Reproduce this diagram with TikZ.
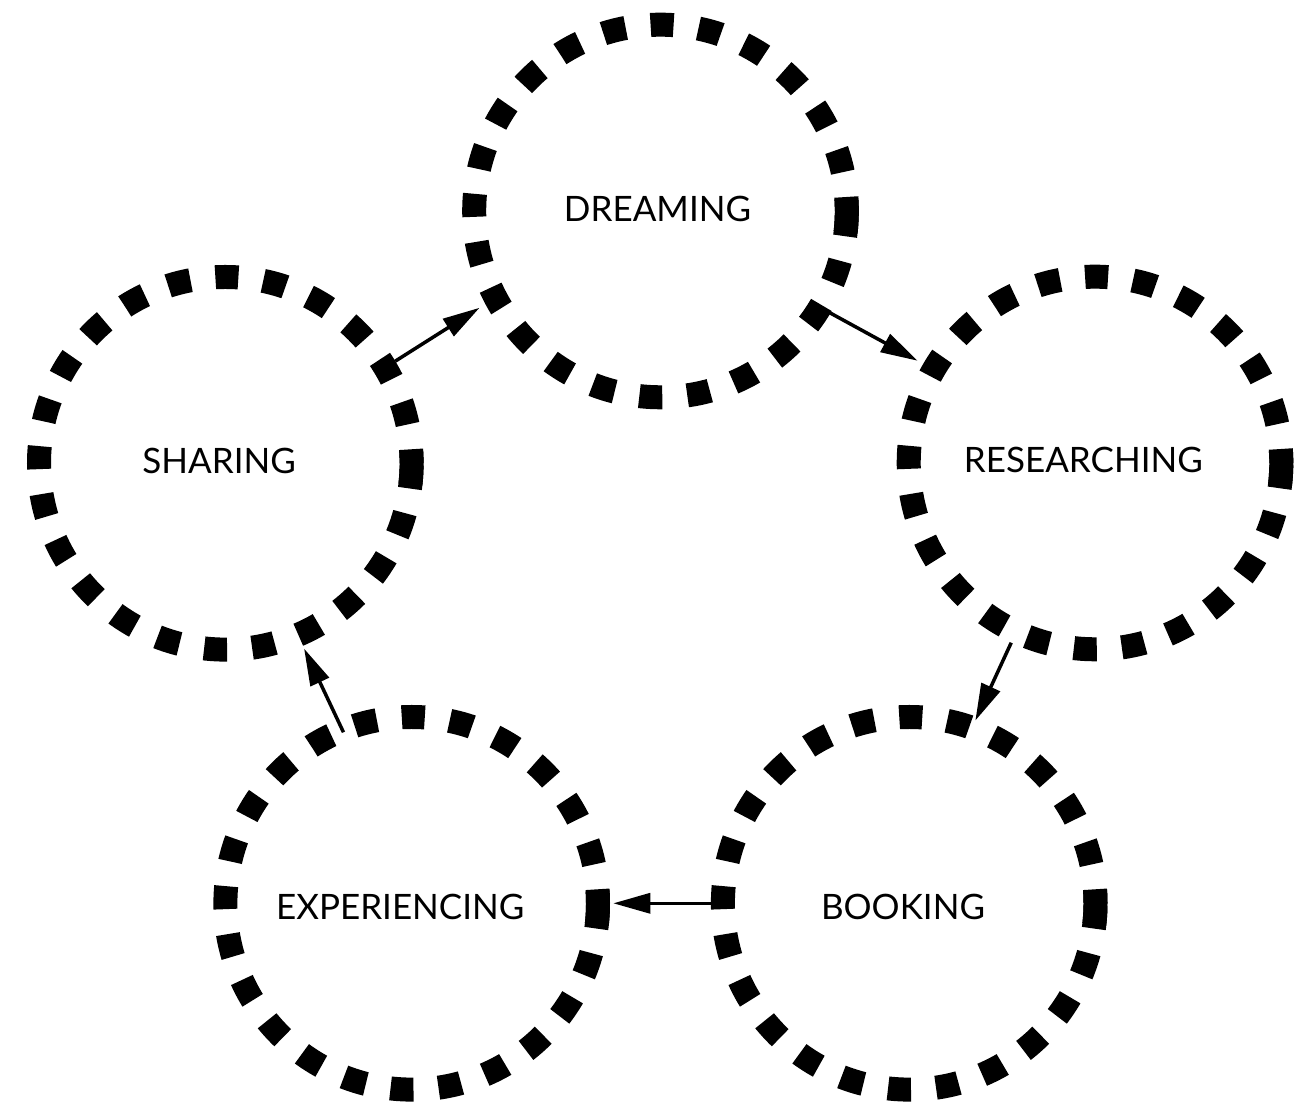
\documentclass[tikz,border=0pt]{standalone}
\usepackage{fontspec}
\setmainfont{Lato}
\usetikzlibrary{arrows.meta}
\begin{document}
\begin{tikzpicture}[x=1pt,y=1pt,
  ring/.style={circle, draw=black, line width=24pt, minimum size=372.6pt, inner sep=0pt, outer sep=12pt,
    dash pattern=on 23pt off 25.1pt, dash phase=9pt},
  seam/.style={line width=24pt, draw=black},
  lbl/.style={anchor=base, font=\fontsize{35}{40}\selectfont, inner sep=0pt},
  arr/.style={line width=3.5pt, -{Triangle[length=37pt,width=20pt]}}
]
\useasboundingbox[fill=white] (0,0) rectangle (1303,1102);
\node[ring] (s) at (225.3,638.7) {};
\node[ring] (d) at (660.5,891) {};
\node[ring] (r) at (1095,639) {};
\node[ring] (e) at (411.7,198.7) {};
\node[ring] (b) at (909.2,198.7) {};
\foreach \n in {s,d,r,e,b}
  \draw[seam] (\n.center) ++(-6.5:186.3) arc[start angle=-6.5, end angle=3.8, radius=186.3];
\node[lbl] (ls) at (219.2,628) {SHARING};
\node[lbl] (ld) at (657.5,880.3) {DREAMING};
\node[lbl] (lr) at (1083.3,629) {RESEARCHING};
\node[lbl] (le) at (400.2,182) {EXPERIENCING};
\node[lbl] (lb) at (903,182) {BOOKING};
\draw[arr, shorten >=7pt] (s.31.8) -- (d.208);
\draw[arr, shorten >=6.5pt, shorten <=-2.4pt] (d.329.9) -- (r.150.5);
\draw[arr, shorten >=-4pt] (r.245.4) -- (b.70.5);
\draw[arr, shorten >=3.3pt] (b.180.7) -- (e.-0.7);
\draw[arr, shorten <=-14.2pt, shorten >=3.1pt] (e.112.6) -- (s.293.3);
\end{tikzpicture}
\end{document}
